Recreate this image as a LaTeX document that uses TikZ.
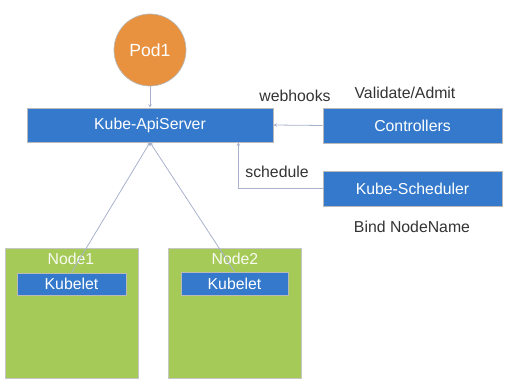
\documentclass[tikz,border=0pt]{standalone}
\usepackage{fontspec}
\setmainfont{Liberation Sans}
\usetikzlibrary{arrows.meta, positioning}
\definecolor{boxblue}{HTML}{3479CB}
\definecolor{nodegreen}{HTML}{A6CA58}
\definecolor{podorange}{HTML}{E8913F}
\definecolor{linegray}{HTML}{A9B2CC}
\definecolor{txtgray}{HTML}{333333}

\begin{document}
\begin{tikzpicture}[
    x=0.02cm, y=-0.02cm,
    >={Stealth[length=2pt, width=2pt]},
    comp/.style={draw=gray!55, line width=0.4pt, fill=boxblue, text=white, font=\fontsize{9}{10}\selectfont, inner sep=0pt},
    host/.style={draw=gray!45, line width=0.4pt, fill=nodegreen, minimum width=2.66cm, minimum height=2.6cm, inner sep=0pt},
    lbl/.style={text=txtgray, font=\fontsize{9}{10}\selectfont},
    conn/.style={draw=linegray, line width=0.45pt, ->}
]
\useasboundingbox (0,0) rectangle (507,384);

% pod on top
\node[circle, draw=gray!55, fill=podorange, text=white, minimum size=1.44cm, inner sep=0pt, font=\fontsize{10}{12}\selectfont] (pod) at (150,50) {Pod1};

% api server and control plane parts
\node[comp, minimum width=4.92cm, minimum height=0.68cm] (api) at (150,125) {Kube-ApiServer};
\node[comp, minimum width=3.58cm, minimum height=0.70cm] (ctrl) at (412.5,125.5) {Controllers};
\node[comp, minimum width=3.58cm, minimum height=0.70cm] (sched) at (412.5,188.5) {Kube-Scheduler};

% worker nodes
\node[host] (node1) at (71.5,313) {};
\node[host] (node2) at (234.5,313) {};
\node[text=white!92!nodegreen, font=\fontsize{9}{10}\selectfont] (name1) at (71,259) {Node1};
\node[text=white!92!nodegreen, font=\fontsize{9}{10}\selectfont] (name2) at (235,259) {Node2};
\node[comp, minimum width=2.18cm, minimum height=0.44cm] (klet1) at (71.5,284) {Kubelet};
\node[comp, minimum width=2.14cm, minimum height=0.46cm] (klet2) at (234.5,283.5) {Kubelet};

% text labels
\node[lbl] (hooks) at (295,96) {webhooks};
\node[lbl] (admit) at (405,93) {Validate/Admit};
\node[lbl] (schedtxt) at (277,172) {schedule};
\node[lbl] (bind) at (412,227) {Bind NodeName};

% connectors
\draw[conn] (pod) -- (api);
\draw[conn] (klet1.north) -- (api.south);
\draw[conn] (klet2.north) -- (api.south);
\draw[conn] (ctrl.west) -- (api.east);
\draw[conn] (sched.west) -| ([xshift=-0.7cm]api.south east);

\end{tikzpicture}
\end{document}
